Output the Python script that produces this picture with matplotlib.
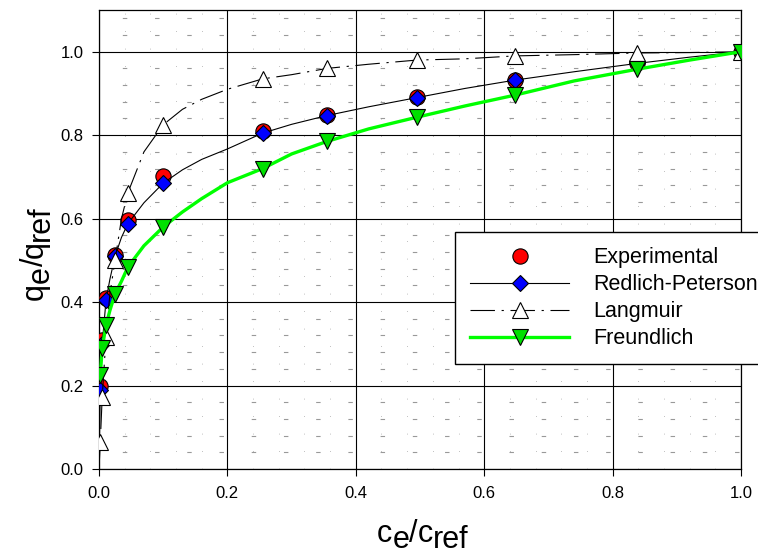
import matplotlib
matplotlib.use('Agg')
import matplotlib.pyplot as plt
from matplotlib.lines import Line2D
from matplotlib.ticker import MultipleLocator, FormatStrFormatter

plt.rcParams['font.family'] = ['Liberation Sans', 'DejaVu Sans']

# measured points (normalised)
x_data = [0.002, 0.005, 0.011, 0.025, 0.045, 0.1, 0.255, 0.355, 0.495, 0.648, 0.838, 1.0]
exp_y = [0.20, 0.31, 0.41, 0.513, 0.597, 0.703, 0.81, 0.848, 0.892, 0.932, 0.972, 1.0]
rp_y = [0.19, 0.30, 0.405, 0.51, 0.588, 0.685, 0.805, 0.847, 0.89, 0.932, 0.972, 1.0]
lang_y = [0.065, 0.173, 0.317, 0.50, 0.662, 0.825, 0.935, 0.96, 0.98, 0.99, 0.997, 1.0]
freu_y = [0.225, 0.29, 0.345, 0.42, 0.484, 0.58, 0.72, 0.785, 0.843, 0.896, 0.958, 1.0]

# model curves
curve_x = [0, 0.002, 0.005, 0.011, 0.017, 0.025, 0.035, 0.045, 0.07, 0.1, 0.13, 0.16, 0.2,
           0.255, 0.3, 0.355, 0.42, 0.495, 0.57, 0.648, 0.74, 0.838, 0.92, 1.0]
rp_curve = [0, 0.19, 0.30, 0.405, 0.455, 0.51, 0.555, 0.588, 0.638, 0.685, 0.717, 0.742, 0.767,
            0.805, 0.826, 0.847, 0.868, 0.89, 0.912, 0.932, 0.952, 0.972, 0.987, 1.0]
lang_curve = [0, 0.065, 0.173, 0.317, 0.42, 0.50, 0.60, 0.662, 0.76, 0.825, 0.862, 0.886, 0.91,
              0.935, 0.945, 0.96, 0.97, 0.98, 0.983, 0.99, 0.993, 0.997, 0.998, 1.0]
freu_curve = [0.225, 0.29, 0.345, 0.38, 0.42, 0.45, 0.484, 0.535, 0.58, 0.616, 0.648, 0.686,
              0.72, 0.755, 0.785, 0.815, 0.843, 0.87, 0.896, 0.93, 0.958, 0.98, 1.0]

labels = ['Experimental', 'Redlich-Peterson', 'Langmuir', 'Freundlich']
green = '#00ff00'
dashdot = (0, (22, 6, 2, 6))

fig = plt.figure(figsize=(7.58, 5.55), dpi=100)
ax = fig.add_axes([99 / 758, 1 - 469 / 555, 642 / 758, 459 / 555])

ax.plot(x_data, exp_y, ls='none', marker='o', ms=11, mfc='red', mec='black', mew=0.8, zorder=3)
ax.plot(curve_x, rp_curve, color='black', lw=0.8, zorder=3)
ax.plot(x_data, rp_y, ls='none', marker='D', ms=8, mfc='blue', mec='black', mew=0.8, zorder=3)
ax.plot(curve_x, lang_curve, color='black', lw=0.8, ls=dashdot, zorder=3)
ax.plot(x_data, lang_y, ls='none', marker='^', ms=12, mfc='white', mec='black', mew=0.8, zorder=3)
ax.plot(curve_x[1:], freu_curve, color=green, lw=2.4, zorder=3)
ax.plot(x_data, freu_y, ls='none', marker='v', ms=11, mfc='#00e000', mec='black', mew=0.8, zorder=3)

ax.set_xlim(0, 1.0)
ax.set_ylim(0, 1.1)
ax.xaxis.set_major_locator(MultipleLocator(0.2))
ax.yaxis.set_major_locator(MultipleLocator(0.2))
ax.xaxis.set_minor_locator(MultipleLocator(0.04))
ax.yaxis.set_minor_locator(MultipleLocator(0.04))
ax.xaxis.set_major_formatter(FormatStrFormatter('%.1f'))
ax.yaxis.set_major_formatter(FormatStrFormatter('%.1f'))
ax.tick_params(which='major', direction='out', length=5, width=0.8, labelsize=12)
ax.tick_params(axis='x', pad=7)
ax.tick_params(axis='y', pad=6)
ax.tick_params(which='minor', length=0)

ax.set_axisbelow(True)
ax.grid(which='major', color='black', lw=0.8)
ax.xaxis.grid(which='minor', color='#aaaaaa', lw=0.6, ls=(0, (1, 20)))
ax.yaxis.grid(which='minor', color='#999999', lw=0.8, ls=(8, (4, 25)))
for s in ax.spines.values():
    s.set_linewidth(0.9)


def split_label(x, y, parts, vertical=False, size=22, shift=4.3):
    # axis title built from pieces so the subscripts keep full size
    last = None
    prev_sub = False
    for text, sub in parts:
        if last is None:
            if vertical:
                last = fig.text(x, y, text, fontsize=size, rotation=90, ha='right', va='bottom')
            else:
                last = fig.text(x, y, text, fontsize=size, ha='left', va='bottom')
        else:
            d = (int(sub) - int(prev_sub)) * shift
            if vertical:
                last = ax.annotate(text, xy=(1, 1), xycoords=last, xytext=(d, 0),
                                   textcoords='offset points', fontsize=size,
                                   rotation=90, ha='right', va='bottom')
            else:
                last = ax.annotate(text, xy=(1, 0), xycoords=last, xytext=(0, -d),
                                   textcoords='offset points', fontsize=size,
                                   ha='left', va='bottom')
        prev_sub = sub


parts_x = [('c', False), ('e', True), ('/', False), ('c', False), ('ref', True)]
parts_y = [('q', False), ('e', True), ('/', False), ('q', False), ('ref', True)]
split_label(377 / 758, 1 - 549 / 555, parts_x)
split_label(50 / 758, 1 - 300 / 555, parts_y, vertical=True)

handles = [
    Line2D([], [], ls='none', marker='o', ms=11, mfc='red', mec='black', mew=0.8),
    Line2D([], [], color='black', lw=0.8, marker='D', ms=8, mfc='blue', mec='black', mew=0.8),
    Line2D([], [], color='black', lw=0.8, ls=dashdot, marker='^', ms=12, mfc='white', mec='black', mew=0.8),
    Line2D([], [], color=green, lw=2.4, marker='v', ms=11, mfc='#00e000', mec='black', mew=0.8),
]
leg = fig.legend(handles, labels, loc='upper left', bbox_to_anchor=(455 / 758, 1 - 232 / 555),
                 fontsize=15.5, frameon=True, fancybox=False, edgecolor='black', framealpha=1,
                 handlelength=4.6, handletextpad=1.1, labelspacing=0.28, borderpad=0.7,
                 borderaxespad=0)
leg.get_frame().set_linewidth(1.0)

fig.savefig('out.png', dpi=100)
